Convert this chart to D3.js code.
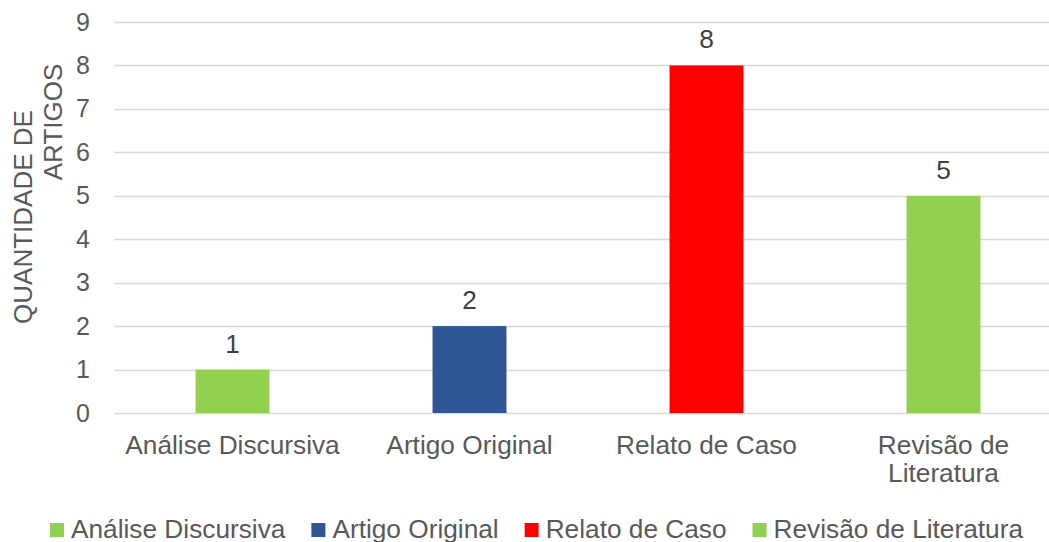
<!DOCTYPE html>
<html>
<head>
<meta charset="utf-8">
<script src="https://cdn.jsdelivr.net/npm/d3@7"></script>
<style>
  body { margin: 0; background: #fff; }
  svg { font-family: Arial, "Liberation Sans", sans-serif; }
</style>
</head>
<body>
<svg width="1049" height="542"></svg>
<script>
// dados
var categorias = ["Análise Discursiva", "Artigo Original", "Relato de Caso", "Revisão de Literatura"];
var rotulos = [["Análise Discursiva"], ["Artigo Original"], ["Relato de Caso"], ["Revisão de", "Literatura"]];
var quantidades = [1, 2, 8, 5];
var cores = ["#92D050", "#2F5597", "#FF0000", "#92D050"];
var ticksY = [0, 1, 2, 3, 4, 5, 6, 7, 8, 9];

var svg = d3.select("svg"),
    fs = 25,
    esticar = 1.05; // o texto do original e um pouco mais largo

// area do grafico (o lado direito esta cortado na imagem)
var x = d3.scaleBand().domain(categorias).range([114, 1062]).paddingInner(0.688).paddingOuter(0.344),
    y = d3.scaleLinear().domain([0, 9]).range([413, 22]);

// linhas de grade
svg.append("g")
    .selectAll("line")
    .data(ticksY)
    .enter().append("line")
    .attr("x1", 114)
    .attr("x2", 1062)
    .attr("y1", function (d) { return Math.round(y(d)) + 0.5; })
    .attr("y2", function (d) { return Math.round(y(d)) + 0.5; })
    .attr("stroke", "#D9D9D9")
    .attr("stroke-width", 1.5);

// eixo y (so os numeros)
var eixoY = svg.append("g")
    .attr("transform", "translate(90,0)")
    .call(d3.axisLeft(y).tickValues(ticksY).tickSize(0).tickPadding(0));
eixoY.select(".domain").remove();
eixoY.selectAll("text")
    .attr("fill", "#595959")
    .style("font-size", fs + "px")
    .style("font-family", "Arial, 'Liberation Sans', sans-serif");

// barras
svg.selectAll(".bar")
    .data(quantidades)
    .enter().append("rect")
    .attr("class", "bar")
    .attr("x", function (d, i) { return x(categorias[i]); })
    .attr("y", function (d) { return y(d); })
    .attr("width", x.bandwidth())
    .attr("height", function (d) { return y(0) - y(d); })
    .attr("fill", function (d, i) { return cores[i]; });

// rotulos de dados
svg.selectAll(".valor")
    .data(quantidades)
    .enter().append("text")
    .attr("class", "valor")
    .attr("transform", function (d, i) {
        return "translate(" + (x(categorias[i]) + x.bandwidth() / 2) + "," + (y(d) - 17) + ") scale(" + esticar + ",1)";
    })
    .attr("text-anchor", "middle")
    .attr("fill", "#404040")
    .style("font-size", fs + "px")
    .text(function (d) { return d; });

// rotulos das categorias
var cat = svg.selectAll(".cat")
    .data(categorias)
    .enter().append("text")
    .attr("class", "cat")
    .attr("transform", function (d) {
        return "translate(" + (x(d) + x.bandwidth() / 2) + ",454) scale(" + esticar + ",1)";
    })
    .attr("text-anchor", "middle")
    .attr("fill", "#595959")
    .style("font-size", fs + "px");
cat.selectAll("tspan")
    .data(function (d, i) { return rotulos[i]; })
    .enter().append("tspan")
    .attr("x", 0)
    .attr("dy", function (d, i) { return i ? 28 : 0; })
    .text(function (d) { return d; });

// titulo do eixo y
svg.append("text")
    .attr("transform", "translate(32,217) rotate(-90)")
    .attr("text-anchor", "middle")
    .attr("fill", "#595959")
    .style("font-size", "26px")
    .text("QUANTIDADE DE");
svg.append("text")
    .attr("transform", "translate(62,122) rotate(-90)")
    .attr("text-anchor", "middle")
    .attr("fill", "#595959")
    .style("font-size", "26px")
    .text("ARTIGOS");

// legenda
var leg = svg.append("g");
var itens = leg.selectAll("g")
    .data(categorias)
    .enter().append("g");
itens.append("rect")
    .attr("width", 14)
    .attr("height", 14)
    .attr("y", 523)
    .attr("fill", function (d, i) { return cores[i]; });
itens.append("text")
    .attr("transform", "translate(21,538) scale(" + esticar + ",1)")
    .attr("fill", "#595959")
    .style("font-size", fs + "px")
    .text(function (d) { return d; });

var pos = 0;
itens.each(function () {
    var w = d3.select(this).select("text").node().getComputedTextLength() * esticar;
    d3.select(this).attr("transform", "translate(" + pos + ",0)");
    pos += 21 + w + 26;
});
var total = pos - 26;
leg.attr("transform", "translate(" + (536.5 - total / 2) + ",0)");
</script>
</body>
</html>
